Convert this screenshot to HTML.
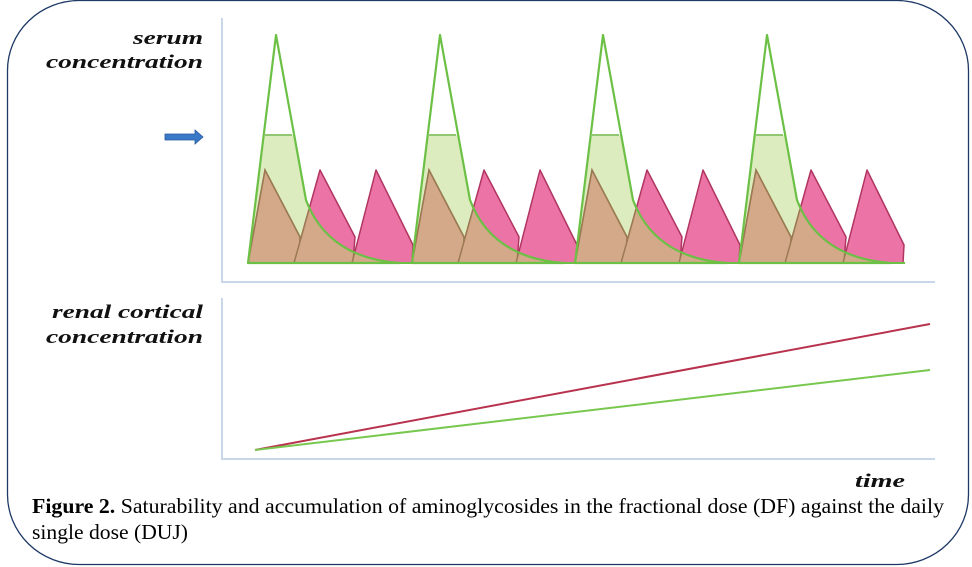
<!DOCTYPE html>
<html><head><meta charset="utf-8"><style>
html,body{margin:0;padding:0;background:#fff;}
svg{display:block;}
</style></head><body>
<svg width="972" height="567" viewBox="0 0 972 567" xmlns="http://www.w3.org/2000/svg">
<defs>
  <path id="gshape" d="M248,263 L276,35 L306,200 Q328,258 400,263 Z"/>
  <clipPath id="gclip"><use href="#gshape"/></clipPath>
  <clipPath id="lowclip"><rect x="0" y="135" width="972" height="200"/></clipPath>
  <g id="cycle">
    <use href="#gshape" fill="#ffffff" stroke="none"/>
    <use href="#gshape" fill="#dcecbe" clip-path="url(#lowclip)"/>
    <g fill="#ec73a6" stroke="#b03560" stroke-width="1.5" stroke-linejoin="round">
      <path d="M294,263 L320,170 L355,237 L353,263 Z"/>
      <path d="M352,263 L376,170 L413,245 L412,263 Z"/>
    </g>
    <g clip-path="url(#gclip)" fill="#d4a98a" stroke="#9a7a52" stroke-width="1.5">
      <path d="M248,263 L265,170 L300,237 L299,263 Z"/>
      <path d="M294,263 L320,170 L355,237 L353,263 Z"/>
      <path d="M352,263 L376,170 L413,245 L412,263 Z"/>
    </g>
    <path d="M248,263 L265,170 L300,237" fill="none" stroke="#9a7a52" stroke-width="1.5"/>
    <use href="#gshape" fill="none" stroke="#6cc046" stroke-width="2.2" stroke-linejoin="round"/>
    <line x1="264" y1="135" x2="292" y2="135" stroke="#8fc870" stroke-width="2"/>
  </g>
</defs>
<rect x="7.5" y="0.5" width="961" height="564" rx="72" ry="70" fill="none" stroke="#1f3a66" stroke-width="1.3"/>
<path d="M222,18 L222,282 L935,282" fill="none" stroke="#c8d8ea" stroke-width="2"/>
<path d="M222,298 L222,459 L935,459" fill="none" stroke="#c8d8ea" stroke-width="2"/>
<use href="#cycle"/>
<use href="#cycle" transform="translate(164,0)"/>
<use href="#cycle" transform="translate(327,0)"/>
<use href="#cycle" transform="translate(491,0)"/>
<line x1="248" y1="263" x2="905" y2="263" stroke="#6cc046" stroke-width="2"/>
<path d="M165,134 L195,134 L195,130 L203,137 L195,144 L195,140 L165,140 Z" fill="#3a78c8" stroke="#2a5a9a" stroke-width="0.8"/>
<line x1="255" y1="450" x2="930" y2="324" stroke="#b8324e" stroke-width="2"/>
<line x1="255" y1="450" x2="930" y2="370" stroke="#78c850" stroke-width="2"/>
<g font-family="'Liberation Serif',serif" font-weight="bold" font-style="italic" font-size="19" fill="#111">
  <text x="133" y="44" textLength="70" lengthAdjust="spacingAndGlyphs">serum</text>
  <text x="46" y="68" textLength="157" lengthAdjust="spacingAndGlyphs">concentration</text>
  <text x="52" y="318" textLength="151" lengthAdjust="spacingAndGlyphs">renal cortical</text>
  <text x="46" y="343" textLength="157" lengthAdjust="spacingAndGlyphs">concentration</text>
  <text x="855" y="487" textLength="50" lengthAdjust="spacingAndGlyphs">time</text>
</g>
<g font-family="'Liberation Serif',serif" font-size="21" fill="#000">
  <text x="32" y="513" textLength="912" lengthAdjust="spacingAndGlyphs"><tspan font-weight="bold">Figure 2.</tspan> Saturability and accumulation of aminoglycosides in the fractional dose (DF) against the daily</text>
  <text x="32" y="539" textLength="156" lengthAdjust="spacingAndGlyphs">single dose (DUJ)</text>
</g>
</svg>
</body></html>
